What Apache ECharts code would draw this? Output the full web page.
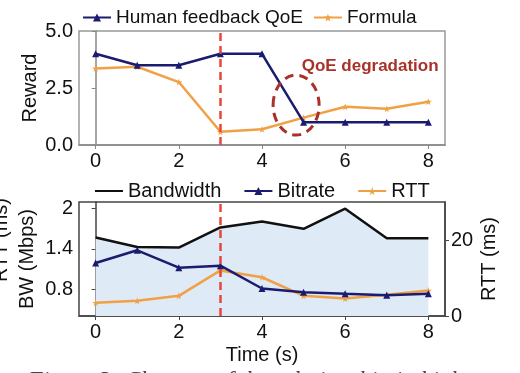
<!DOCTYPE html>
<html>
<head>
<meta charset="utf-8">
<script src="https://cdn.jsdelivr.net/npm/echarts@6/dist/echarts.min.js"></script>
<style>
html, body { margin: 0; padding: 0; background: #fff; }
#chart { width: 520px; height: 373px; }
</style>
</head>
<body>
<div id="chart"></div>
<script>
// data
const times = [0, 1, 2, 3, 4, 5, 6, 7, 8];
const humanQoE = [4, 3.5, 3.5, 4, 4, 1, 1, 1, 1];
const formulaQoE = [3.36, 3.43, 2.76, 0.58, 0.69, 1.2, 1.68, 1.59, 1.9];
const bandwidth = [1.57, 1.43, 1.42, 1.72, 1.81, 1.70, 2.0, 1.56, 1.56];
const bitrate = [1.19, 1.38, 1.12, 1.15, 0.81, 0.755, 0.73, 0.71, 0.73];
const rtt = [3.5, 4.0, 5.3, 12.0, 10.2, 5.3, 4.6, 5.6, 6.7];
const xTicks = [0, 2, 4, 6, 8];
const rewardTicks = [0, 2.5, 5];
const bwTicks = [0.8, 1.4, 2.0];
const rttTicks = [0, 20];
const eventTime = 3;

const FONT = 'Liberation Sans, Arial, sans-serif';
const NAVY = '#1b1b6f';
const ORANGE = '#f0a045';
const RED = '#e8453c';
const DARKRED = '#a8322a';
const STAR = 'path://M50,0 L61,35 L98,35 L68,57 L79,91 L50,70 L21,91 L32,57 L2,35 L39,35 Z';

const pairs = (ys) => times.map((t, i) => [t, ys[i]]);

const txt = { fontSize: 20, color: '#111', fontFamily: FONT };

function xAx(grid, lineColor, extra) {
    return Object.assign({
        gridIndex: grid, type: 'value', min: -0.4, max: 8.4,
        axisLine: { onZero: false, lineStyle: { color: lineColor, width: 1.5 } },
        axisTick: { customValues: xTicks, length: 4, lineStyle: { color: lineColor } },
        axisLabel: Object.assign({ customValues: xTicks, margin: 6 }, txt),
        splitLine: { show: false }
    }, extra || {});
}

function vline() {
    return {
        silent: true, symbol: 'none', label: { show: false },
        lineStyle: { color: RED, type: [8, 5], width: 2.5 },
        data: [{ xAxis: eventTime }]
    };
}

let myChart = echarts.init(document.getElementById('chart'));
let option = {
    animation: false,
    grid: [
        { left: 79, top: 31, width: 366, height: 114, show: true, borderColor: '#999', borderWidth: 1.5 },
        { left: 79, top: 202, width: 366, height: 114, show: true, borderColor: '#444', borderWidth: 1.5 }
    ],
    legend: [
        {
            data: ['Human feedback QoE', 'Formula'], left: 77, top: 3,
            itemWidth: 28, itemHeight: 10, itemGap: 10,
            textStyle: { fontSize: 19, color: '#111', fontFamily: FONT }
        },
        {
            data: [{ name: 'Bandwidth', itemStyle: { opacity: 0 } }, 'Bitrate', 'RTT'], left: 89, top: 176,
            itemWidth: 28, itemHeight: 10, itemGap: 22,
            textStyle: { fontSize: 20, color: '#111', fontFamily: FONT }
        }
    ],
    xAxis: [
        xAx(0, '#888'),
        xAx(1, '#444', {
            name: 'Time (s)', nameLocation: 'middle', nameGap: 29, nameMoveOverlap: false,
            nameTextStyle: txt
        })
    ],
    yAxis: [
        {
            gridIndex: 0, type: 'value', min: 0, max: 5,
            axisLine: { show: true, lineStyle: { color: '#888', width: 1.5 } },
            axisTick: { show: true, customValues: rewardTicks, length: 4, lineStyle: { color: '#888' } },
            axisLabel: Object.assign({ customValues: rewardTicks, margin: 6, formatter: (v) => v.toFixed(1) }, txt),
            splitLine: { show: false },
            name: 'Reward', nameLocation: 'middle', nameGap: 39, nameMoveOverlap: false, nameTextStyle: txt
        },
        {
            gridIndex: 1, type: 'value', min: 0.4, max: 2.1,
            axisLine: { show: true, lineStyle: { color: '#444', width: 1.5 } },
            axisTick: { show: true, customValues: bwTicks, length: 4, lineStyle: { color: '#444' } },
            axisLabel: Object.assign({ customValues: bwTicks, margin: 6, formatter: (v) => (v === 2 ? '2' : v.toFixed(1)) }, txt),
            splitLine: { show: false },
            name: 'BW (Mbps)', nameLocation: 'middle', nameGap: 42, nameMoveOverlap: false, nameTextStyle: txt
        },
        {
            gridIndex: 1, type: 'value', position: 'right', min: 0, max: 30,
            axisLine: { show: true, lineStyle: { color: '#444', width: 1.5 } },
            axisTick: { show: true, customValues: rttTicks, length: 4, lineStyle: { color: '#444' } },
            axisLabel: Object.assign({ customValues: rttTicks, margin: 6 }, txt),
            splitLine: { show: false },
            name: 'RTT (ms)', nameLocation: 'middle', nameGap: 34, nameRotate: 90, nameMoveOverlap: false, nameTextStyle: txt
        }
    ],
    series: [
        {
            name: 'Human feedback QoE', type: 'line', xAxisIndex: 0, yAxisIndex: 0,
            data: pairs(humanQoE), color: NAVY, symbol: 'triangle', symbolSize: 7,
            lineStyle: { width: 2.5 }, z: 3, markLine: vline()
        },
        {
            name: 'Formula', type: 'line', xAxisIndex: 0, yAxisIndex: 0,
            data: pairs(formulaQoE), color: ORANGE, symbol: STAR, symbolSize: 7,
            lineStyle: { width: 2.5 }, z: 2
        },
        {
            name: 'Bandwidth', type: 'line', xAxisIndex: 1, yAxisIndex: 1,
            data: pairs(bandwidth), color: '#111', symbol: 'none',
            lineStyle: { width: 2.5 }, areaStyle: { color: '#deeaf5', opacity: 1, origin: 'start' },
            z: 1, markLine: vline()
        },
        {
            name: 'Bitrate', type: 'line', xAxisIndex: 1, yAxisIndex: 1,
            data: pairs(bitrate), color: NAVY, symbol: 'triangle', symbolSize: 7,
            lineStyle: { width: 2.5 }, z: 4
        },
        {
            name: 'RTT', type: 'line', xAxisIndex: 1, yAxisIndex: 2,
            data: pairs(rtt), color: ORANGE, symbol: STAR, symbolSize: 7,
            lineStyle: { width: 2.5 }, z: 3
        }
    ]
};
myChart.setOption(option);

// annotations placed from data coordinates
const ring = myChart.convertToPixel({ xAxisIndex: 0, yAxisIndex: 0 }, [4.82, 1.75]);
const note = myChart.convertToPixel({ xAxisIndex: 0, yAxisIndex: 0 }, [6.6, 3.45]);
myChart.setOption({
    graphic: [
        {
            type: 'ellipse', shape: { cx: ring[0], cy: ring[1], rx: 23, ry: 30 },
            style: { fill: 'none', stroke: DARKRED, lineWidth: 3, lineDash: [9, 6] }, z: 10
        },
        {
            type: 'text', x: note[0], y: note[1],
            style: { text: 'QoE degradation', fill: DARKRED, font: 'bold 17px ' + FONT, align: 'center', verticalAlign: 'middle' }, z: 10
        },
        {
            type: 'text', x: 1, y: 240, rotation: Math.PI / 2,
            style: { text: 'RTT (ms)', fill: '#111', font: '20px ' + FONT, align: 'center', verticalAlign: 'middle' }
        },
        {
            type: 'text', left: 28, top: 369,
            style: { text: 'Figure 3: Changes of the relationship in high', fill: '#444', font: 'italic 24px Liberation Serif, serif' }
        }
    ]
});
</script>
</body>
</html>
